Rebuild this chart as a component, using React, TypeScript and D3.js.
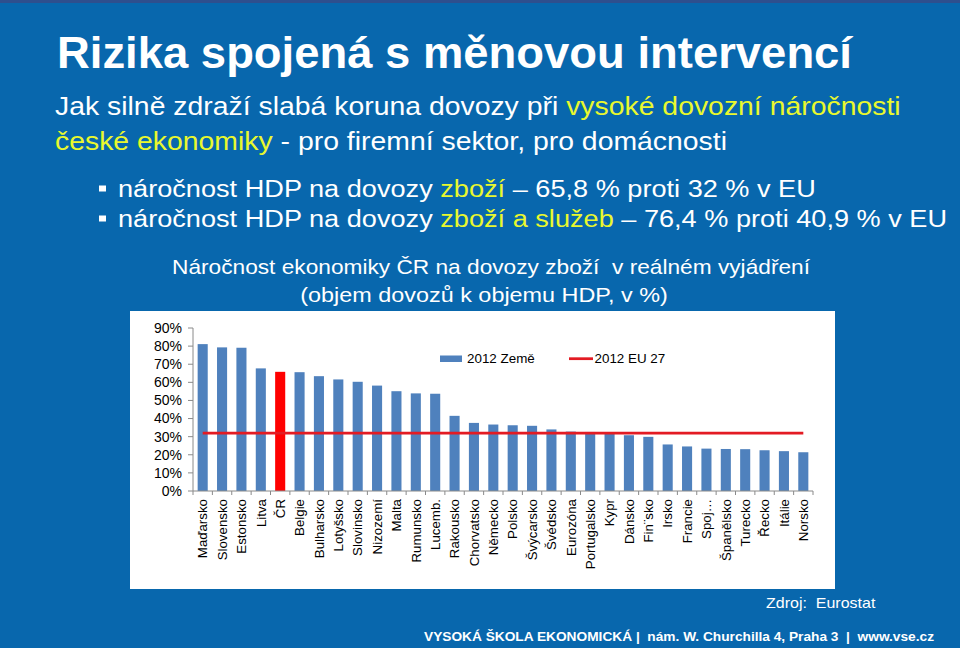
import React from 'react';
import * as d3 from 'd3';

const categories = ['Maďarsko','Slovensko','Estonsko','Litva','ČR','Belgie','Bulharsko','Lotyšsko','Slovinsko','Nizozemí','Malta','Rumunsko','Lucemb.','Rakousko','Chorvatsko','Německo','Polsko','Švýcarsko','Švédsko','Eurozóna','Portugalsko','Kypr','Dánsko','Fin¨sko','Irsko','Francie','Spoj…','Španělsko','Turecko','Řecko','Itálie','Norsko'];
const values2012 = [81.1,79.3,79.1,67.7,65.8,65.6,63.4,61.6,60.3,58.2,55.1,53.9,53.7,41.5,37.6,36.7,36.3,36.0,34.0,32.8,32.6,32.5,30.8,29.9,25.7,24.6,23.4,23.2,23.1,22.5,22.0,21.4];
const eu27 = 32;
const highlight = 'ČR';
const yTicks = [0,10,20,30,40,50,60,70,80,90];
const legendLabels = ['2012 Země', '2012 EU 27'];

const FONT = '"Liberation Sans", Arial, sans-serif';
const BG = '#0867AD';
const YELLOW = '#E9F82E';
const BAR = '#4F81BD';
const RED = '#E31B23';
const AXIS = '#8A8A8A';

function SText({ x, y, size, children, anchor = 'start', weight = 'normal', fill = '#fff', tl }: any) {
  return (
    <text transform={`translate(${x},${y}) scale(1,0.9)`} fontSize={size} fontFamily={FONT}
      fontWeight={weight} fill={fill} textAnchor={anchor}
      {...(tl ? { textLength: tl, lengthAdjust: 'spacingAndGlyphs' } : {})}>
      {children}
    </text>
  );
}

export default function App() {
  const x = d3.scaleBand<string>().domain(categories).range([193, 813]).paddingInner(0.48).paddingOuter(0.24);
  const y = d3.scaleLinear().domain([0, 90]).range([491, 328]);
  const step = x.step();
  const x0 = 193;
  const boundaries = d3.range(categories.length + 1).map(i => x0 + i * step);
  const firstC = (x(categories[0]) as number) + x.bandwidth() / 2;
  const lastC = (x(categories[categories.length - 1]) as number) + x.bandwidth() / 2;

  return (
    <svg width={960} height={648} style={{ position: 'absolute', left: 0, top: 0, display: 'block' }}>
      <rect x={0} y={0} width={960} height={648} fill={BG} />
      <rect x={0} y={0} width={960} height={3} fill="#2E4F8E" />

      <text x={57} y={68} fontSize={45} fontWeight="bold" fill="#fff" fontFamily={FONT}
        textLength={795} lengthAdjust="spacingAndGlyphs">Rizika spojená s měnovou intervencí</text>

      <SText x={55} y={115} size={28.4}>
        Jak silně zdraží slabá koruna dovozy při <tspan fill={YELLOW}>vysoké dovozní náročnosti</tspan>
      </SText>
      <SText x={55} y={150} size={28.4}>
        <tspan fill={YELLOW}>české ekonomiky</tspan> - pro firemní sektor, pro domácnosti
      </SText>

      <rect x={99} y={185.5} width={7} height={6} fill="#fff" />
      <SText x={118} y={197} size={27.15}>
        náročnost HDP na dovozy <tspan fill={YELLOW}>zboží</tspan> – 65,8 % proti 32 % v EU
      </SText>
      <rect x={99} y={215.5} width={7} height={6} fill="#fff" />
      <SText x={118} y={227} size={27.15}>
        náročnost HDP na dovozy <tspan fill={YELLOW}>zboží a služeb</tspan> – 76,4 % proti 40,9 % v EU
      </SText>

      <SText x={491} y={274} size={22.7} anchor="middle">Náročnost ekonomiky ČR na dovozy zboží{'\u00A0 '}v reálném vyjádření</SText>
      <SText x={484} y={302} size={23.4} anchor="middle">(objem dovozů k objemu HDP, v %)</SText>

      <rect x={130} y={311} width={705} height={278} fill="#fff" />

      {/* y axis */}
      <line x1={193} x2={193} y1={y(0)} y2={y(90)} stroke={AXIS} strokeWidth={1} />
      {yTicks.map(t => (
        <g key={t}>
          <line x1={188} x2={193} y1={y(t)} y2={y(t)} stroke={AXIS} strokeWidth={1} />
          <text x={182} y={y(t)} dy="0.35em" textAnchor="end" fontSize={14} fontFamily={FONT} fill="#000">{t}%</text>
        </g>
      ))}

      {/* bars */}
      {categories.map((c, i) => (
        <rect key={c} x={x(c)} y={y(values2012[i])} width={x.bandwidth()} height={y(0) - y(values2012[i])}
          fill={c === highlight ? '#FF0000' : BAR} />
      ))}

      {/* x axis */}
      <line x1={x0} x2={x0 + step * categories.length} y1={y(0)} y2={y(0)} stroke={AXIS} strokeWidth={1} />
      {boundaries.map((b, i) => (
        <line key={i} x1={b} x2={b} y1={y(0)} y2={y(0) + 4} stroke={AXIS} strokeWidth={1} />
      ))}
      {categories.map(c => {
        const cx = (x(c) as number) + x.bandwidth() / 2;
        return (
          <text key={c} transform={`translate(${cx},499) rotate(-90)`} dy="0.36em" textAnchor="end"
            fontSize={13.3} fontFamily={FONT} fill="#000">{c}</text>
        );
      })}

      {/* EU line */}
      <line x1={firstC} x2={lastC} y1={y(eu27)} y2={y(eu27)} stroke={RED} strokeWidth={2.75} />

      {/* legend */}
      <rect x={440} y={355.5} width={22} height={6.5} fill={BAR} />
      <text x={467} y={363} fontSize={13.4} fontFamily={FONT} fill="#000">{legendLabels[0]}</text>
      <line x1={569} x2={593} y1={358.7} y2={358.7} stroke={RED} strokeWidth={2.75} />
      <text x={594.5} y={363} fontSize={13.4} fontFamily={FONT} fill="#000">{legendLabels[1]}</text>

      <SText x={766} y={608} size={16}>Zdroj:{'\u00A0 '}Eurostat</SText>
      <SText x={424} y={641} size={14} weight="bold" tl={510}>VYSOKÁ ŠKOLA EKONOMICKÁ | {'\u00A0'}nám. W. Churchilla 4, Praha 3 {'\u00A0'}| {'\u00A0'}www.vse.cz</SText>
    </svg>
  );
}
